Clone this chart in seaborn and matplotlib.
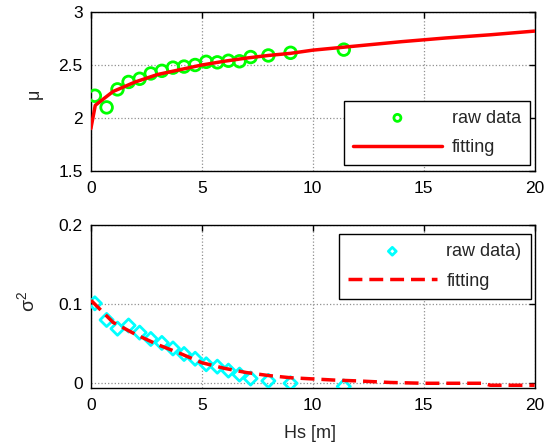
import numpy as np
import pandas as pd
import seaborn as sns
import matplotlib.pyplot as plt

# ---- data ----
hs_raw = [0.18, 0.71, 1.2, 1.7, 2.2, 2.7, 3.2, 3.7, 4.2, 4.7, 5.2, 5.7, 6.2, 6.7, 7.2, 8.0, 9.0, 11.4]
mu_raw = [2.21, 2.10, 2.27, 2.34, 2.37, 2.42, 2.445, 2.475, 2.485, 2.50, 2.53, 2.525, 2.54, 2.535, 2.575, 2.59, 2.615, 2.645]
var_raw = [0.101, 0.080, 0.069, 0.073, 0.064, 0.056, 0.051, 0.044, 0.037, 0.031, 0.024, 0.021, 0.016, 0.011, 0.006, 0.003, 0.0, -0.004]

hs_fit_mu = [0, 0.2, 1, 2, 3, 4, 5, 6, 7, 8, 9, 10, 12, 14, 16, 18, 20]
mu_fit = [1.90, 2.12, 2.25, 2.34, 2.41, 2.455, 2.50, 2.535, 2.565, 2.59, 2.61, 2.64, 2.68, 2.72, 2.755, 2.785, 2.82]

hs_fit_var = [0, 1, 2, 3, 4, 5, 6, 7, 8, 9, 10, 11, 12, 13.5, 15, 17.7, 18, 20]
var_fit = [0.105, 0.077, 0.062, 0.049, 0.038, 0.026, 0.019, 0.0136, 0.0098, 0.007, 0.0055, 0.004, 0.003, 0.001, 0.0, 0.0, -0.0025, -0.0025]

sns.set_style("white")
plt.rcParams['font.family'] = ['Liberation Sans', 'DejaVu Sans']
plt.rcParams['mathtext.fontset'] = 'custom'
plt.rcParams['mathtext.rm'] = 'Liberation Sans'
plt.rcParams['mathtext.it'] = 'Liberation Sans'
plt.rcParams['mathtext.default'] = 'regular'

fig = plt.figure(figsize=(5.54, 4.46), dpi=100)
ax1 = fig.add_axes([0.164, 0.6166, 0.801, 0.3565])
ax2 = fig.add_axes([0.164, 0.130, 0.801, 0.3655])

raw1 = pd.DataFrame({"Hs": hs_raw, "mu": mu_raw})
fit1 = pd.DataFrame({"Hs": hs_fit_mu, "mu": mu_fit})
raw2 = pd.DataFrame({"Hs": hs_raw, "var": var_raw})
fit2 = pd.DataFrame({"Hs": hs_fit_var, "var": var_fit})

sns.scatterplot(data=raw1, x="Hs", y="mu", ax=ax1, marker="o", s=70,
                facecolor="none", edgecolor="#00ff00", linewidth=2, label="raw data", zorder=3)
sns.lineplot(data=fit1, x="Hs", y="mu", ax=ax1, color="red", linewidth=2.5, label="fitting", zorder=4)

sns.scatterplot(data=raw2, x="Hs", y="var", ax=ax2, marker="D", s=45,
                facecolor="none", edgecolor="#00ffff", linewidth=2, label="raw data)", zorder=3)
sns.lineplot(data=fit2, x="Hs", y="var", ax=ax2, color="red", linewidth=2.5, linestyle=(0, (4, 2)),
             label="fitting", zorder=4)

ax1.set_xlim(0, 20)
ax1.set_ylim(1.5, 3)
ax1.set_yticks([1.5, 2, 2.5, 3])
ax1.set_yticklabels(["1.5", "2", "2.5", "3"])
ax2.set_xlim(0, 20)
ax2.set_ylim(-0.006, 0.2)
ax2.set_yticks([0, 0.1, 0.2])
ax2.set_yticklabels(["0", "0.1", "0.2"])

for ax in (ax1, ax2):
    ax.set_xticks([0, 5, 10, 15, 20])
    ax.grid(True, color="#909090", linestyle=":", linewidth=0.9)
    ax.tick_params(direction="in", top=True, right=True, length=4, width=1,
                   labelsize=12.5, colors="black")
    ax.tick_params(axis="x", pad=7)
    ax.tick_params(axis="y", pad=6)
    for sp in ax.spines.values():
        sp.set_color("black")
        sp.set_linewidth(1)
    ax.set_xlabel("")

ax1.set_ylabel("μ", fontsize=13)
ax1.yaxis.set_label_coords(-0.108, 0.484)
ax2.set_ylabel("σ$^2$", fontsize=14)
ax2.yaxis.set_label_coords(-0.119, 0.53)
ax2.set_xlabel("Hs [m]", fontsize=13)
ax2.xaxis.set_label_coords(0.493, -0.225)

leg_kw = dict(frameon=True, fancybox=False, edgecolor="black", framealpha=1,
              fontsize=13, handlelength=4.9, handletextpad=0.55, borderpad=0.5,
              labelspacing=0.7, markerscale=0.6, borderaxespad=0)
leg1 = ax1.legend(loc="lower right", bbox_to_anchor=(0.989, 0.036), **leg_kw)
leg2 = ax2.legend(loc="upper right", bbox_to_anchor=(0.991, 0.945), **leg_kw)
for leg in (leg1, leg2):
    leg.get_frame().set_linewidth(1)

fig.savefig("out.png", dpi=100)
